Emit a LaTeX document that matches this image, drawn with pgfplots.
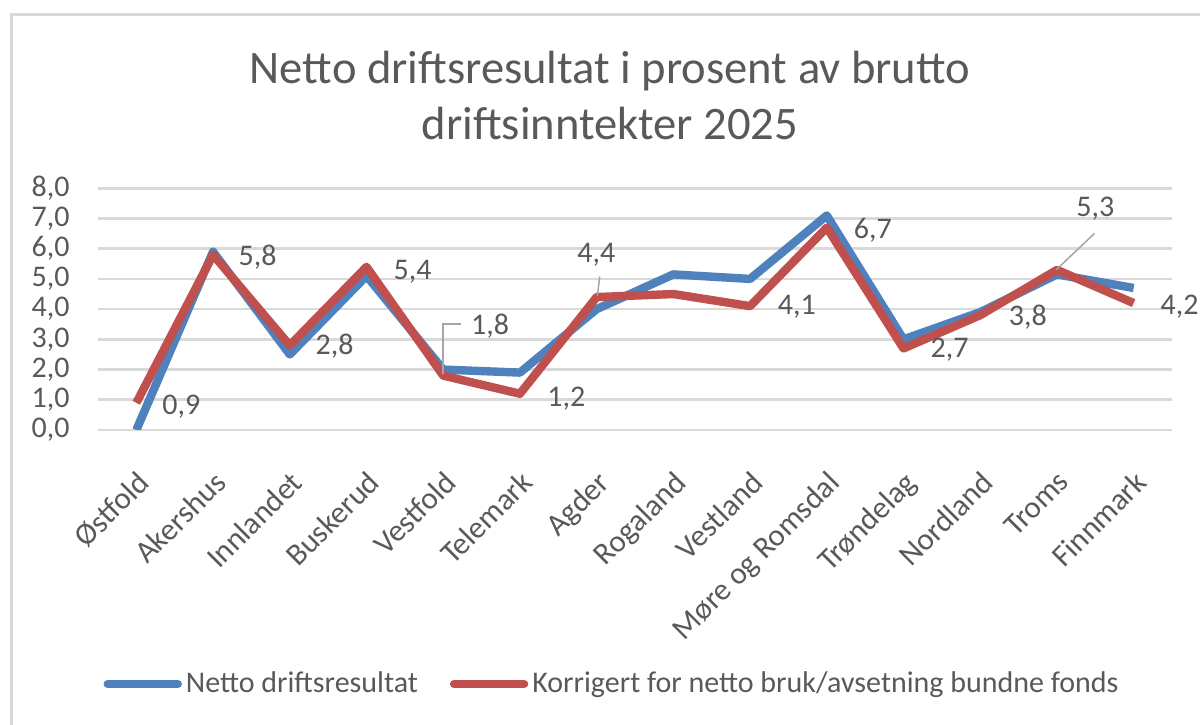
\documentclass[border=0pt]{standalone}
\usepackage{pgfplots}
\pgfplotsset{compat=1.18}
\usepackage{fontspec}
\setmainfont{Carlito}
\definecolor{txt}{HTML}{595959}
\definecolor{gridc}{HTML}{D9D9D9}
\definecolor{sblue}{HTML}{4F81BD}
\definecolor{sred}{HTML}{C0504D}
\definecolor{lead}{HTML}{A6A6A6}
\begin{document}
\begin{tikzpicture}
\useasboundingbox (0,0) rectangle (600bp,362.5bp);
\draw[gridc, line width=1.5bp] (5.5bp,-20bp) -- (5.5bp,355.25bp) -- (620bp,355.25bp);
\node[anchor=base, text=txt, font=\fontsize{23.3bp}{28bp}\selectfont] at (305bp,320.85bp) {Netto driftsresultat i prosent av brutto};
\node[anchor=base, text=txt, font=\fontsize{23.3bp}{28bp}\selectfont] at (305bp,292.5bp) {driftsinntekter 2025};
\begin{axis}[
  at={(49bp,147.5bp)}, anchor=south west,
  scale only axis, width=537bp, height=120.85bp,
  xmin=-0.5, xmax=13.5, ymin=0, ymax=8,
  ytick={0,1,...,8},
  xtick={0,...,13},
  xticklabels={Østfold,Akershus,Innlandet,Buskerud,Vestfold,Telemark,Agder,Rogaland,Vestland,Møre og Romsdal,Trøndelag,Nordland,Troms,Finnmark},
  axis line style={draw=none},
  major tick length=0pt,
  ymajorgrids, grid style={gridc, line width=1.3bp},
  /pgf/number format/.cd, fixed, fixed zerofill, precision=1, use comma, assume math mode=true,
  /pgfplots/.cd,
  yticklabel style={anchor=east, inner sep=0pt, xshift=-14bp, text=txt, font=\fontsize{15bp}{18bp}\selectfont},
  xticklabel style={rotate=45, anchor=north east, inner sep=0pt, xshift=-14bp, yshift=-13.5bp, text=txt, font=\fontsize{15.5bp}{18bp}\selectfont},
  clip mode=individual,
  legend columns=2,
  legend image code/.code={\draw[line width=4.2bp, line cap=round] (0bp,0bp) -- (35bp,0bp);},
  legend style={draw=none, fill=none, text=txt, font=\fontsize{15bp}{18bp}\selectfont,
    at={(rel axis cs:0.4795,-1.051)}, anchor=center, inner sep=0pt,
    /tikz/every even column/.append style={column sep=14bp}},
]
\addplot[sblue, line width=4.2bp, line join=round] coordinates {
(0,0.0)(1,5.9)(2,2.5)(3,5.1)(4,2.0)(5,1.9)(6,4.0)(7,5.15)(8,5.0)(9,7.1)(10,3.0)(11,3.9)(12,5.15)(13,4.7)};
\addlegendentry{Netto driftsresultat}
\addplot[sred, line width=4.2bp, line join=round] coordinates {
(0,0.9)(1,5.8)(2,2.8)(3,5.4)(4,1.8)(5,1.2)(6,4.4)(7,4.5)(8,4.1)(9,6.7)(10,2.7)(11,3.8)(12,5.3)(13,4.2)};
\addlegendentry{Korrigert for netto bruk/avsetning bundne fonds}
\draw[lead, line width=0.75bp] (axis cs:4.0,1.85) -- (axis cs:4.0,3.51) -- (axis cs:4.23,3.51);
\draw[lead, line width=0.75bp] (axis cs:6.01,4.45) -- (axis cs:6.04,5.08);
\draw[lead, line width=0.75bp] (axis cs:11.99,5.30) -- (axis cs:12.49,6.51);
\tikzset{lbl/.style={text=txt, font=\fontsize{15bp}{18bp}\selectfont, inner sep=0pt}}
\node[lbl] at (axis cs:0.587,0.77) {0,9};
\node[lbl] at (axis cs:1.58,5.73) {5,8};
\node[lbl] at (axis cs:2.585,2.76) {2,8};
\node[lbl] at (axis cs:3.60,5.23) {5,4};
\node[lbl] at (axis cs:4.61,3.44) {1,8};
\node[lbl] at (axis cs:5.606,1.02) {1,2};
\node[lbl] at (axis cs:5.997,5.79) {4,4};
\node[lbl] at (axis cs:8.61,4.08) {4,1};
\node[lbl] at (axis cs:9.6,6.62) {6,7};
\node[lbl] at (axis cs:10.6,2.65) {2,7};
\node[lbl] at (axis cs:11.62,3.75) {3,8};
\node[lbl] at (axis cs:12.5,7.34) {5,3};
\node[lbl] at (axis cs:13.6,4.08) {4,2};
\end{axis}
\end{tikzpicture}
\end{document}
